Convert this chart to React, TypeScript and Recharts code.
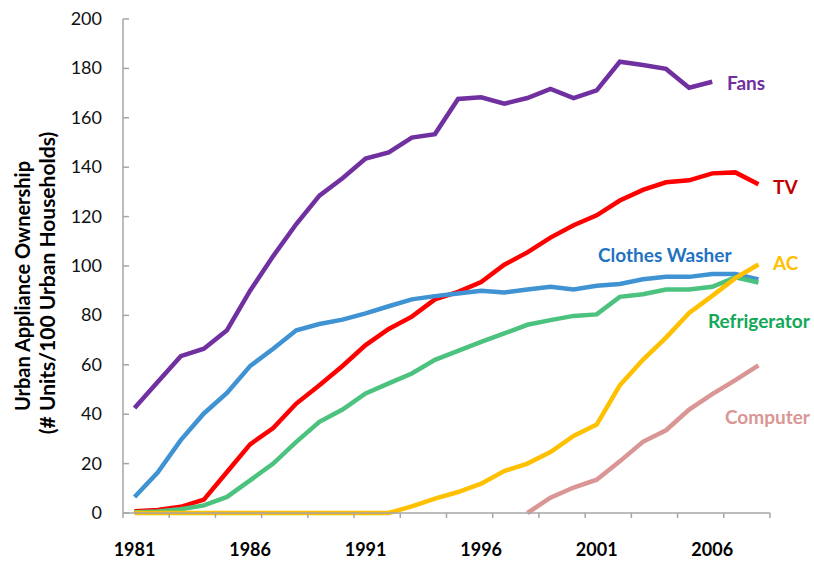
import { LineChart, Line, XAxis, YAxis } from "recharts";

const YEARS = [
  1981, 1982, 1983, 1984, 1985, 1986, 1987, 1988, 1989, 1990, 1991, 1992, 1993, 1994,
  1995, 1996, 1997, 1998, 1999, 2000, 2001, 2002, 2003, 2004, 2005, 2006, 2007, 2008,
];

const FANS = [
  42.5, 53, 63.5, 66.5, 74, 90, 104, 117, 128.5, 135.5, 143.5, 146, 152, 153.4,
  167.6, 168.3, 165.7, 168, 171.7, 168, 171.1, 182.7, 181.4, 179.8, 172.2, 174.6, null, null,
];
const TV = [
  0.7, 1.2, 2.5, 5.4, 16.6, 27.8, 34.4, 44.3, 51.7, 59.5, 68, 74.5, 79.5, 86.5,
  89.5, 93.5, 100.5, 105.5, 111.5, 116.5, 120.5, 126.5, 130.8, 133.9, 134.7, 137.5, 137.9, 133.1,
];
const WASHER = [
  6.5, 16.4, 29.5, 40.3, 48.6, 59.5, 66.5, 74, 76.5, 78.3, 80.8, 83.7, 86.5, 87.8,
  88.9, 90, 89.3, 90.5, 91.6, 90.5, 92, 92.7, 94.6, 95.6, 95.6, 96.8, 96.8, 94.6,
];
const FRIDGE = [
  0.3, 0.6, 1.5, 3.1, 6.5, 13.2, 20, 28.8, 36.9, 41.9, 48.4, 52.5, 56.5, 62,
  65.6, 69.3, 72.7, 76.2, 78.1, 79.8, 80.4, 87.5, 88.6, 90.5, 90.5, 91.6, 95.4, 93.3,
];
const AC = [
  0, 0, 0, 0, 0, 0, 0, 0, 0, 0, 0, 0, 2.7, 5.8,
  8.5, 11.9, 17, 20, 24.7, 31.2, 35.8, 51.7, 62, 71, 81, 87.9, 95.1, 100.6,
];
const COMPUTER = [
  null, null, null, null, null, null, null, null, null, null, null, null, null, null,
  null, null, null, 0, 6.2, 10.3, 13.5, 20.9, 28.8, 33.5, 41.9, 48.1, 53.8, 59.8,
];

const Y_TICKS = [0, 20, 40, 60, 80, 100, 120, 140, 160, 180, 200];
const LABEL_YEARS = [1981, 1986, 1991, 1996, 2001, 2006];
const TICK_MARKS = [
  1980.5, 1982.5, 1984.5, 1986.5, 1988.5, 1990.5, 1992.5, 1994.5, 1996.5, 1998.5,
  2000.5, 2002.5, 2004.5, 2006.5, 2008.5,
];

const rows = YEARS.map((year, i) => ({
  year,
  fans: FANS[i],
  tv: TV[i],
  washer: WASHER[i],
  fridge: FRIDGE[i],
  ac: AC[i],
  computer: COMPUTER[i],
}));

const FONT = "Lato, 'Open Sans', sans-serif";
const AXIS_GRAY = "#A6A6A6";

const xTicks = [...TICK_MARKS, ...LABEL_YEARS].sort((a, b) => a - b);

function XTick(props: any) {
  const { x, y, payload } = props;
  if (LABEL_YEARS.includes(payload.value)) {
    return (
      <text x={x} y={y + 43} textAnchor="middle" fontFamily={FONT} fontWeight={700} fontSize={18} fill="#000">
        {payload.value}
      </text>
    );
  }
  return <line x1={x} y1={y} x2={x} y2={y + 5} stroke={AXIS_GRAY} strokeWidth={1.5} />;
}

function YTick(props: any) {
  const { x, y, payload } = props;
  return (
    <g>
      <line x1={x} y1={y} x2={x + 6} y2={y} stroke={AXIS_GRAY} strokeWidth={1.5} />
      <text x={x - 21} y={y + 6} textAnchor="end" fontFamily={FONT} fontSize={18} fill="#111">
        {payload.value}
      </text>
    </g>
  );
}

const SERIES_LABELS = [
  { text: "Fans", color: "#7030A0", left: 727, top: 82 },
  { text: "TV", color: "#C00000", left: 773, top: 186 },
  { text: "Clothes Washer", color: "#1F73C2", left: 598, top: 254 },
  { text: "AC", color: "#FFC000", left: 773, top: 262 },
  { text: "Refrigerator", color: "#12A857", left: 708, top: 320 },
  { text: "Computer", color: "#DA9694", left: 725, top: 416 },
];

const titleStyle = {
  position: "absolute" as const,
  transform: "translate(-50%, -50%) rotate(-90deg)",
  fontFamily: FONT,
  fontWeight: 700,
  whiteSpace: "nowrap" as const,
  lineHeight: 1,
  color: "#000",
};

export default function App() {
  return (
    <div style={{ position: "absolute", left: 0, top: 0, width: 814, height: 562, background: "#fff" }}>
      <LineChart width={814} height={562} data={rows} margin={{ top: 19, right: 44, left: 0, bottom: 0 }}>
        <XAxis
          dataKey="year"
          type="number"
          domain={[1980.5, 2008.5]}
          ticks={xTicks}
          interval={0}
          tick={<XTick />}
          tickLine={false}
          tickSize={0}
          tickMargin={0}
          height={49}
          stroke={AXIS_GRAY}
          strokeWidth={1.5}
        />
        <YAxis
          domain={[0, 200]}
          ticks={Y_TICKS}
          interval={0}
          tick={<YTick />}
          tickLine={false}
          tickSize={0}
          tickMargin={0}
          width={123}
          stroke={AXIS_GRAY}
          strokeWidth={1.5}
        />
        <Line dataKey="fans" stroke="#7030A0" strokeWidth={4.5} dot={false} isAnimationActive={false} />
        <Line dataKey="tv" stroke="#FF0000" strokeWidth={4.5} dot={false} isAnimationActive={false} />
        <Line dataKey="washer" stroke="#3F93D3" strokeWidth={4.5} dot={false} isAnimationActive={false} />
        <Line dataKey="fridge" stroke="#4CC27F" strokeWidth={4.5} dot={false} isAnimationActive={false} />
        <Line dataKey="ac" stroke="#FFC000" strokeWidth={4.5} dot={false} isAnimationActive={false} />
        <Line dataKey="computer" stroke="#D99694" strokeWidth={4.5} dot={false} isAnimationActive={false} />
      </LineChart>

      {SERIES_LABELS.map((l) => (
        <div
          key={l.text}
          style={{
            position: "absolute",
            left: l.left,
            top: l.top,
            transform: "translateY(-50%)",
            fontFamily: FONT,
            fontWeight: 700,
            fontSize: 19,
            color: l.color,
            whiteSpace: "nowrap",
            lineHeight: 1,
          }}
        >
          {l.text}
        </div>
      ))}

      <div style={{ ...titleStyle, left: 22, top: 286, fontSize: 20 }}>Urban Appliance Ownership</div>
      <div style={{ ...titleStyle, left: 46, top: 283, fontSize: 21 }}>(# Units/100 Urban Households)</div>
    </div>
  );
}
